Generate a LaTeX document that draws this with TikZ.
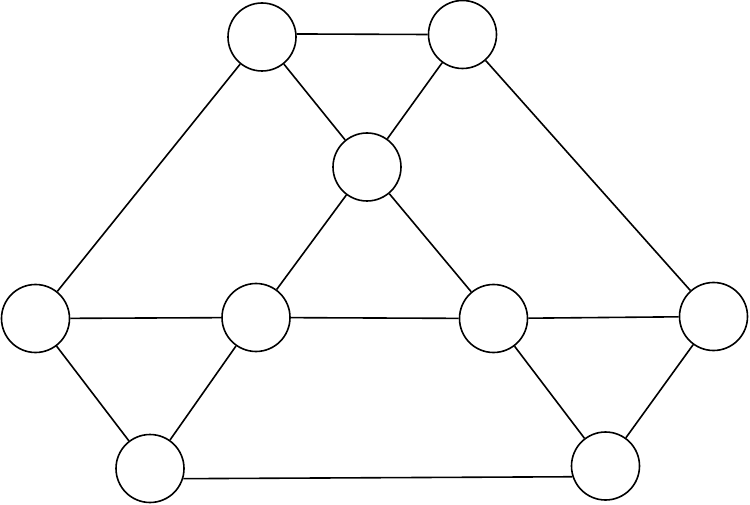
\documentclass[tikz,border=0pt]{standalone}
\begin{document}
\begin{tikzpicture}[x=1pt,y=-1pt,
  vert/.style={circle,draw,line width=1.6pt,minimum size=68pt,inner sep=0pt,fill=white},
  edge/.style={line width=1.6pt}]
\useasboundingbox (0,0) rectangle (750,505);
\node[vert] (A) at (262,37) {};
\node[vert] (B) at (462.5,34.5) {};
\node[vert] (C) at (367,167) {};
\node[vert] (D) at (35.5,318.5) {};
\node[vert] (E) at (256,317.5) {};
\node[vert] (F) at (493.5,318.5) {};
\node[vert] (G) at (713.5,316.5) {};
\node[vert] (H) at (150,468.5) {};
\node[vert] (I) at (605.5,466) {};
\draw[edge] (A.5) -- (B.west);
\draw[edge] (A) -- (C);
\draw[edge] (B) -- (C);
\draw[edge] (A) -- (D);
\draw[edge] (B) -- (G);
\draw[edge] (C) -- (E);
\draw[edge] (C) -- (F);
\draw[edge] (D) -- (E);
\draw[edge] (E) -- (F);
\draw[edge] (F) -- (G);
\draw[edge] (D) -- (H);
\draw[edge] (E) -- (H);
\draw[edge] (F) -- (I);
\draw[edge] (G) -- (I);
\draw[edge] (H.-17) -- (I.198);
\end{tikzpicture}
\end{document}
